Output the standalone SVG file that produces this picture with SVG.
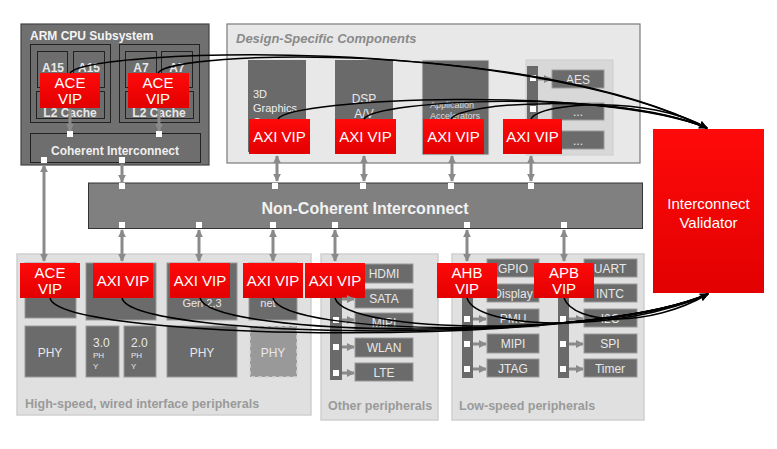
<svg xmlns="http://www.w3.org/2000/svg" width="777" height="449" viewBox="0 0 777 449">
<defs>
<linearGradient id="rg" x1="0" y1="0" x2="0" y2="1"><stop offset="0" stop-color="#ff0a0a"/><stop offset="1" stop-color="#e20000"/></linearGradient>
<marker id="ga" viewBox="0 0 10 10" refX="9" refY="5" markerWidth="2.6" markerHeight="2.6" orient="auto-start-reverse"><path d="M0,0 L10,5 L0,10 z" fill="#8a8a8a"/></marker>
<marker id="ba" viewBox="0 0 10 10" refX="9" refY="5" markerWidth="6" markerHeight="6" orient="auto"><path d="M0,1 L10,5 L0,9 L3,5 z" fill="#000"/></marker>
</defs>
<style>
text{font-family:"Liberation Sans",Arial,sans-serif}
.vip{fill:url(#rg)}
.vt{fill:#fff;font-size:15px;text-anchor:middle}
.dk{fill:#6b6b6b;stroke:#9a9a9a;stroke-width:1}
.dkb{fill:#6e6e6e;stroke:#222;stroke-width:1}
.lb{fill:#e8e8e8;font-size:12px;text-anchor:middle}
.grp{fill:#e0e0e0;stroke:#cfcfcf;stroke-width:1.5}
.gt{fill:#9a9a9a;font-size:12.5px;font-weight:bold}
.sq{fill:#fff}
.gc{stroke:#8a8a8a;stroke-width:3;fill:none}
.bc{stroke:#000;stroke-width:1.5;fill:none;marker-end:url(#ba)}
</style>
<rect width="777" height="449" fill="#fff"/>

<g id="arm-cpu-subsystem">
<rect x="21" y="24" width="188" height="141" fill="#707070" stroke="#444" stroke-width="1.2"/>
<text x="30" y="40" fill="#f4f4f4" font-size="12" font-weight="bold">ARM CPU Subsystem</text>
<rect x="30.5" y="44.5" width="80" height="78" class="dkb"/>
<rect x="37.5" y="51.5" width="30" height="36" class="dkb"/>
<rect x="73.5" y="51.5" width="31" height="36" class="dkb"/>
<rect x="36.5" y="91.5" width="68" height="27" class="dkb"/>
<text x="53" y="72" class="lb" font-weight="bold">A15</text>
<text x="89" y="72" class="lb" font-weight="bold">A15</text>
<text x="70" y="117" class="lb" font-size="11" font-weight="bold">L2 Cache</text>
<rect x="119.5" y="44.5" width="80" height="78" class="dkb"/>
<rect x="125.5" y="51.5" width="31" height="36" class="dkb"/>
<rect x="161.5" y="51.5" width="31" height="36" class="dkb"/>
<rect x="125.5" y="91.5" width="68" height="27" class="dkb"/>
<text x="141" y="72" class="lb" font-weight="bold">A7</text>
<text x="177" y="72" class="lb" font-weight="bold">A7</text>
<text x="159" y="117" class="lb" font-size="11" font-weight="bold">L2 Cache</text>
</g>
<g id="ace-vip-a15"><rect x="40" y="73" width="60" height="35" class="vip"/><text x="70" y="88" class="vt">ACE</text><text x="70" y="104" class="vt">VIP</text></g>
<g id="ace-vip-a7"><rect x="128" y="73" width="61" height="35" class="vip"/><text x="158" y="88" class="vt">ACE</text><text x="158" y="104" class="vt">VIP</text></g>
<g id="coherent-interconnect">
<rect x="30.5" y="133.5" width="170" height="29" class="dkb"/>
<text x="115" y="155" fill="#eee" font-size="12" font-weight="bold" text-anchor="middle">Coherent Interconnect</text>
<rect x="67" y="131" width="6" height="6" class="sq"/><rect x="156" y="131" width="6" height="6" class="sq"/>
<rect x="41" y="157" width="6" height="6" class="sq"/><rect x="119" y="157" width="6" height="6" class="sq"/>
</g>

<g id="design-specific-components">
<rect x="227" y="24" width="413" height="139" fill="#e8e8e8" stroke="#7a7a7a" stroke-width="1.2"/>
<text x="236" y="43" fill="#8a8a8a" font-size="13" font-weight="bold" font-style="italic">Design-Specific Components</text>
</g>
<g id="graphics-core"><rect x="248" y="60" width="58" height="92" fill="#6a6a6a"/><text x="253" y="98" fill="#eee" font-size="11">3D</text><text x="253" y="112" fill="#eee" font-size="11">Graphics</text><text x="253" y="126" fill="#eee" font-size="11">Core</text></g>
<g id="dsp-av"><rect x="335" y="60" width="58" height="92" fill="#6a6a6a"/><text x="364" y="103" class="lb">DSP</text><text x="364" y="118" class="lb">A/V</text></g>
<g id="app-accelerators"><rect x="422" y="60" width="67" height="95" fill="#6a6a6a" stroke="#ddd"/><text x="430" y="108" fill="#ddd" font-size="9">Application</text><text x="430" y="119" fill="#ddd" font-size="9">Accelerators</text></g>
<g id="security-blocks">
<rect x="526" y="60" width="87" height="95" fill="#d8d8d8" stroke="#cdcdcd"/>
<rect x="527" y="66" width="11" height="84" fill="#6a6a6a"/>
<rect x="530" y="75" width="6" height="6" class="sq"/><rect x="530" y="106" width="6" height="6" class="sq"/>
<rect x="552" y="70" width="52" height="18" class="dk"/><text x="578" y="84" class="lb">AES</text>
<rect x="552" y="103" width="52" height="17" class="dk"/><text x="578" y="116" class="lb">...</text>
<rect x="552" y="131" width="52" height="18" class="dk"/><text x="578" y="145" class="lb">...</text>
</g>
<g id="axi-vip-graphics"><rect x="249" y="119" width="61" height="35" class="vip"/><text x="279.5" y="142" class="vt">AXI VIP</text></g>
<g id="axi-vip-dsp"><rect x="335" y="119" width="61" height="35" class="vip"/><text x="365.5" y="142" class="vt">AXI VIP</text></g>
<g id="axi-vip-app"><rect x="423" y="119" width="61" height="35" class="vip"/><text x="453.5" y="142" class="vt">AXI VIP</text></g>
<g id="axi-vip-security"><rect x="503" y="119" width="59" height="35" class="vip"/><text x="532.5" y="142" class="vt">AXI VIP</text></g>

<g id="interconnect-validator"><rect x="653" y="129" width="111" height="164" class="vip"/><text x="708.5" y="209" class="vt">Interconnect</text><text x="708.5" y="228" class="vt">Validator</text></g>

<g id="non-coherent-interconnect">
<rect x="88.5" y="183" width="554" height="45.5" fill="#808080" stroke="#333" stroke-width="1"/>
<text x="365" y="214" fill="#f2f2f2" font-size="16" font-weight="bold" text-anchor="middle">Non-Coherent Interconnect</text>
<rect x="119" y="183" width="6" height="6" class="sq"/><rect x="272" y="183" width="6" height="6" class="sq"/><rect x="360" y="183" width="6" height="6" class="sq"/><rect x="448" y="183" width="6" height="6" class="sq"/><rect x="528" y="183" width="6" height="6" class="sq"/>
<rect x="119" y="222" width="6" height="6" class="sq"/><rect x="196" y="222" width="6" height="6" class="sq"/><rect x="270" y="222" width="6" height="6" class="sq"/><rect x="332" y="222" width="6" height="6" class="sq"/><rect x="464" y="222" width="6" height="6" class="sq"/><rect x="561" y="222" width="6" height="6" class="sq"/>
</g>

<g id="high-speed-peripherals">
<rect x="17" y="254" width="294" height="161" class="grp"/>
<text x="25" y="408" class="gt">High-speed, wired interface peripherals</text>
<rect x="25" y="263" width="51" height="55" class="dk"/>
<rect x="86" y="263" width="70" height="57" class="dk"/>
<rect x="167" y="263" width="70" height="57" class="dk"/>
<text x="202" y="307" fill="#e8e8e8" font-size="11" text-anchor="middle">Gen 2,3</text>
<rect x="249" y="263" width="48" height="57" class="dk"/>
<text x="268" y="307" fill="#e8e8e8" font-size="11" text-anchor="middle">net</text>
<rect x="25" y="326" width="51" height="51" class="dk"/><text x="50" y="357" class="lb" font-size="13">PHY</text>
<rect x="86" y="326" width="33" height="51" class="dk"/><text x="93" y="347" fill="#e8e8e8" font-size="12">3.0</text><text x="93" y="358" fill="#e8e8e8" font-size="8">PH</text><text x="93" y="369" fill="#e8e8e8" font-size="8">Y</text>
<rect x="124" y="326" width="32" height="51" class="dk"/><text x="131" y="347" fill="#e8e8e8" font-size="12">2.0</text><text x="131" y="358" fill="#e8e8e8" font-size="8">PH</text><text x="131" y="369" fill="#e8e8e8" font-size="8">Y</text>
<rect x="167" y="326" width="70" height="51" class="dk"/><text x="202" y="357" class="lb" font-size="13">PHY</text>
<rect x="250" y="326" width="47" height="51" fill="#999" stroke="#d4d4d4" stroke-width="1.5" stroke-dasharray="4 3"/><text x="273" y="357" class="lb" font-size="13">PHY</text>
</g>
<g id="ace-vip-io"><rect x="20" y="263" width="60" height="35" class="vip"/><text x="50" y="278" class="vt">ACE</text><text x="50" y="294" class="vt">VIP</text></g>
<g id="axi-vip-usb"><rect x="93" y="263" width="60" height="35" class="vip"/><text x="123" y="286" class="vt">AXI VIP</text></g>
<g id="axi-vip-pcie"><rect x="170" y="263" width="60" height="35" class="vip"/><text x="200" y="286" class="vt">AXI VIP</text></g>
<g id="axi-vip-ethernet"><rect x="243" y="263" width="60" height="35" class="vip"/><text x="273" y="286" class="vt">AXI VIP</text></g>

<g id="other-peripherals">
<rect x="321" y="254" width="117" height="166" class="grp"/>
<text x="328" y="410" class="gt">Other peripherals</text>
<rect x="330" y="263" width="12" height="117" fill="#6a6a6a"/>
<rect x="333" y="317" width="6" height="6" class="sq"/><rect x="333" y="344" width="6" height="6" class="sq"/><rect x="333" y="370" width="6" height="6" class="sq"/>
<rect x="355" y="264" width="58" height="19" class="dk"/><text x="384" y="278" class="lb">HDMI</text>
<rect x="355" y="289" width="58" height="19" class="dk"/><text x="384" y="303" class="lb">SATA</text>
<rect x="355" y="313" width="58" height="18" class="dk"/><text x="384" y="327" class="lb">MIPI</text>
<rect x="355" y="338" width="58" height="19" class="dk"/><text x="384" y="352" class="lb">WLAN</text>
<rect x="355" y="363" width="58" height="18" class="dk"/><text x="384" y="377" class="lb">LTE</text>
</g>
<g id="axi-vip-other"><rect x="305" y="263" width="60" height="35" class="vip"/><text x="335" y="286" class="vt">AXI VIP</text></g>

<g id="low-speed-peripherals">
<rect x="452" y="254" width="192" height="166" class="grp"/>
<text x="459" y="410" class="gt">Low-speed peripherals</text>
<rect x="462" y="263" width="11" height="115" fill="#6a6a6a"/>
<rect x="464" y="316" width="6" height="6" class="sq"/><rect x="464" y="341" width="6" height="6" class="sq"/><rect x="464" y="366" width="6" height="6" class="sq"/>
<rect x="487" y="259" width="52" height="18" class="dk"/><text x="513" y="273" class="lb">GPIO</text>
<rect x="487" y="284" width="52" height="18" class="dk"/><text x="513" y="298" class="lb" font-size="11">Display</text>
<rect x="487" y="309" width="52" height="18" class="dk"/><text x="513" y="323" class="lb">PMU</text>
<rect x="487" y="334" width="52" height="19" class="dk"/><text x="513" y="348" class="lb">MIPI</text>
<rect x="487" y="359" width="52" height="18" class="dk"/><text x="513" y="373" class="lb">JTAG</text>
<rect x="558" y="263" width="11" height="115" fill="#6a6a6a"/>
<rect x="560" y="316" width="6" height="6" class="sq"/><rect x="560" y="341" width="6" height="6" class="sq"/><rect x="560" y="366" width="6" height="6" class="sq"/>
<rect x="584" y="259" width="53" height="18" class="dk"/><text x="610" y="273" class="lb">UART</text>
<rect x="584" y="284" width="53" height="18" class="dk"/><text x="610" y="298" class="lb">INTC</text>
<rect x="584" y="309" width="53" height="18" class="dk"/><text x="610" y="323" class="lb">I2C</text>
<rect x="584" y="334" width="53" height="19" class="dk"/><text x="610" y="348" class="lb">SPI</text>
<rect x="584" y="359" width="53" height="18" class="dk"/><text x="610" y="373" class="lb" font-size="11">Timer</text>
</g>
<g id="ahb-vip"><rect x="437" y="263" width="60" height="35" class="vip"/><text x="467" y="278" class="vt">AHB</text><text x="467" y="294" class="vt">VIP</text></g>
<g id="apb-vip"><rect x="534" y="263" width="60" height="35" class="vip"/><text x="564" y="278" class="vt">APB</text><text x="564" y="294" class="vt">VIP</text></g>

<g id="connectors">
<g marker-end="url(#ga)">
<path class="gc" d="M70,109 V131"/>
<path class="gc" d="M159,109 V131"/>
<path class="gc" d="M122,164 V182"/>
<path class="gc" d="M538,79 H551"/>
<path class="gc" d="M342,299 H354"/><path class="gc" d="M342,320 H354"/><path class="gc" d="M342,347 H354"/><path class="gc" d="M342,373 H354"/>
<path class="gc" d="M473,319 H486"/><path class="gc" d="M473,344 H486"/><path class="gc" d="M473,369 H486"/>
<path class="gc" d="M569,319 H583"/><path class="gc" d="M569,344 H583"/><path class="gc" d="M569,369 H583"/>
</g>
<g marker-start="url(#ga)" marker-end="url(#ga)">
<path class="gc" d="M44,165 V261"/>
<path class="gc" d="M277,156 V181"/>
<path class="gc" d="M364,156 V181"/>
<path class="gc" d="M452,156 V181"/>
<path class="gc" d="M531,156 V181"/>
<path class="gc" d="M122,230 V261"/>
<path class="gc" d="M199,230 V261"/>
<path class="gc" d="M273,230 V261"/>
<path class="gc" d="M335,230 V261"/>
<path class="gc" d="M467,230 V261"/>
<path class="gc" d="M564,230 V261"/>
</g>
<path class="bc" d="M70,73 C90,48 520,35 707,128"/>
<path class="bc" d="M158,73 C170,50 530,40 707,128"/>
<path class="bc" d="M278,119 C290,98 600,85 707,128"/>
<path class="bc" d="M364,119 C375,100 610,88 707,128"/>
<path class="bc" d="M451,119 C460,102 620,92 707,128"/>
<path class="bc" d="M531,119 C540,102 650,95 707,128"/>
<path class="bc" d="M50,298 C60,342 600,348 708,294"/>
<path class="bc" d="M122,298 C132,340 600,345 708,294"/>
<path class="bc" d="M200,298 C210,338 600,342 708,294"/>
<path class="bc" d="M273,298 C283,336 600,340 708,294"/>
<path class="bc" d="M335,298 C345,334 600,338 708,294"/>
<path class="bc" d="M467,298 C477,330 620,334 708,294"/>
<path class="bc" d="M564,298 C574,325 650,328 708,294"/>
</g>
</svg>
